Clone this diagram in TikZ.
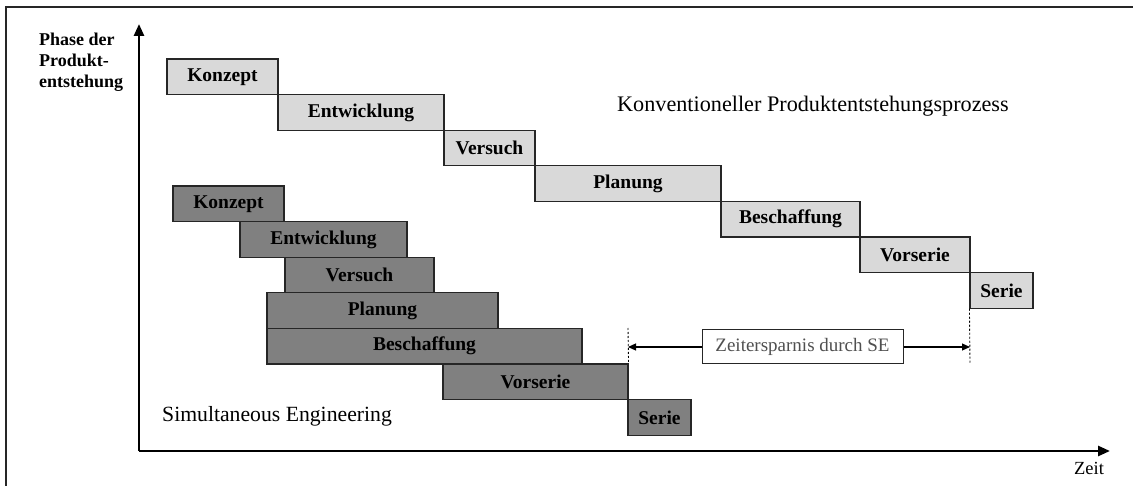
\documentclass[tikz,border=0pt]{standalone}
\usepackage{fontspec}
\setmainfont{Liberation Serif}
\usetikzlibrary{arrows.meta}
\definecolor{lightfill}{HTML}{D9D9D9}
\definecolor{darkfill}{HTML}{808080}
\definecolor{edge}{HTML}{262626}
\definecolor{notegray}{HTML}{505050}
\begin{document}
\begin{tikzpicture}[x=1pt,y=-1pt,
  phase/.style={draw=edge,line width=1.1pt,inner sep=0pt,minimum height=35.6pt,
    font=\fontsize{19.5}{21}\selectfont\bfseries,text=black},
  convbox/.style={phase,fill=lightfill},
  sebox/.style={phase,fill=darkfill},
  axis/.style={line width=2.6pt,-{Triangle[length=12pt,width=10pt]}},
  span/.style={line width=1.1pt,-{Triangle[length=8pt,width=7pt]}},
  guide/.style={line width=0.9pt,dash pattern=on 2pt off 2pt}]
\useasboundingbox (0,0) rectangle (1133,486);
% outer frame (left and top edges)
\draw[line width=2pt,edge] (6,486) -- (6,7) -- (1133,7);

% axes
\coordinate (origin) at (139,451);
\coordinate (ytip) at (139,24);
\coordinate (xtip) at (1110,451);
\draw[axis] (origin) -- (ytip);
\draw[axis] (origin) -- (xtip);
\node[anchor=north west,align=left,inner sep=0pt,
  font=\fontsize{18}{21}\selectfont\bfseries] (ylabel) at (39,33)
  {Phase der\\Produkt-\\entstehung};
\node[anchor=base,inner sep=0pt,font=\fontsize{18.5}{20}\selectfont] (xlabel) at (1089,474) {Zeit};

% conventional sequence
\node[convbox,minimum width=111pt] (k1) at (222.5,76.8) {Konzept};
\node[convbox,minimum width=166pt] (e1) at (361,112.4) {Entwicklung};
\node[convbox,minimum width=91pt] (v1) at (489.5,148) {Versuch};
\node[convbox,minimum width=186pt] (p1) at (628,183.6) {Planung};
\node[convbox,minimum width=139pt] (b1) at (790.5,219.2) {Beschaffung};
\node[convbox,minimum width=110pt] (vs1) at (915,254.8) {Vorserie};
\node[convbox,minimum width=63pt] (s1) at (1001.5,290.4) {Serie};
\node[anchor=base west,inner sep=0pt,font=\fontsize{22.2}{24}\selectfont] (convlabel)
  at (617,112) {Konventioneller Produktentstehungsprozess};

% simultaneous engineering
\node[sebox,minimum width=111pt] (k2) at (228.5,203.8) {Konzept};
\node[sebox,minimum width=167pt] (e2) at (323.5,239.4) {Entwicklung};
\node[sebox,minimum width=149pt] (v2) at (359.5,275) {Versuch};
\node[sebox,minimum width=231pt] (p2) at (382.5,310.6) {Planung};
\node[sebox,minimum width=315pt] (b2) at (424.5,346.2) {Beschaffung};
\node[sebox,minimum width=185pt] (vs2) at (535.5,381.8) {Vorserie};
\node[sebox,minimum width=63pt] (s2) at (659.5,417.4) {Serie};
\node[anchor=base west,inner sep=0pt,font=\fontsize{21.7}{24}\selectfont] (selabel)
  at (162,421) {Simultaneous Engineering};

% time saving
\coordinate (gl) at (628,328);
\coordinate (gr) at (970,363);
\draw[guide] (gl) -- (vs2.north east);
\draw[guide] (s1.south west) -- (gr);
\coordinate (al) at (628,347);
\coordinate (ar) at (970,347);
\node[draw=edge,line width=1pt,fill=white,inner sep=0pt,minimum width=201pt,minimum height=34pt,
  text=notegray,font=\fontsize{19}{21}\selectfont] (save) at (802.5,347) {Zeitersparnis durch SE};
\draw[span] (save.west) -- (al);
\draw[span] (save.east) -- (ar);
\end{tikzpicture}
\end{document}
